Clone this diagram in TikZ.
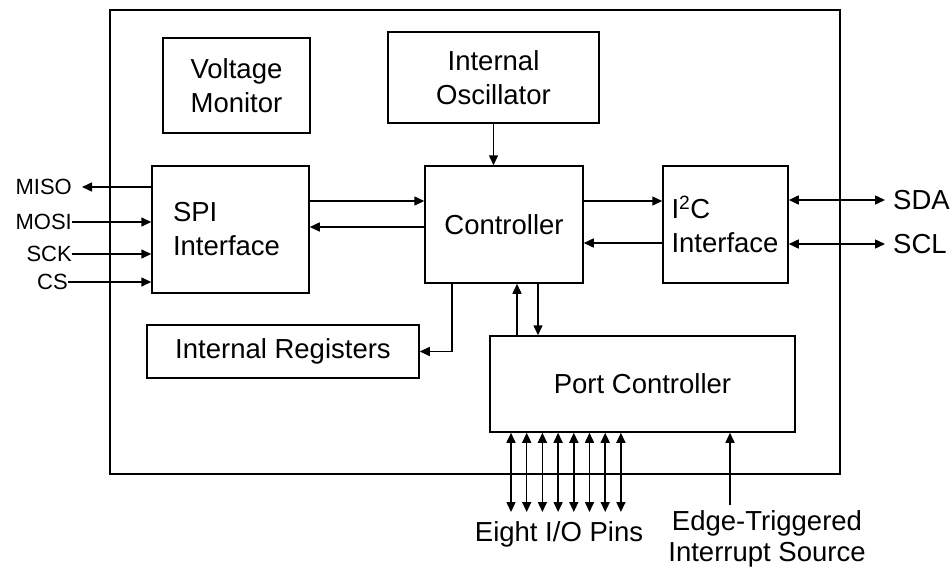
\documentclass[tikz,border=0pt]{standalone}
\usepackage{fontspec}
\setmainfont{Liberation Sans}
\usetikzlibrary{arrows.meta, positioning, calc}
\tikzstyle{block} = [draw, line width=1.5pt, inner sep=0pt, align=center]
\tikzstyle{arrow} = [line width=1.5pt, -{Triangle[length=10pt,width=9pt]}]
\tikzstyle{dblarrow} = [line width=1.5pt, {Triangle[length=10pt,width=9pt]}-{Triangle[length=10pt,width=9pt]}]
\tikzstyle{pinlabel} = [inner sep=0pt, font=\fontsize{22}{26}\selectfont]
\tikzstyle{buslabel} = [inner sep=0pt, align=center]

\begin{document}
\begin{tikzpicture}[x=1pt, y=-1pt, font=\fontsize{27.5}{34}\selectfont]
        \useasboundingbox (0,0) rectangle (950,571);

        % Chip outline
        \node[block, minimum width=730pt, minimum height=464pt] (chip) at (475,242) {};

        % Blocks inside the chip
        \node[block, minimum width=147pt, minimum height=95pt] (vmon) at (236.5,85.5) {Voltage\\Monitor};
        \node[block, minimum width=211pt, minimum height=91pt] (osc) at (493.5,77.5) {Internal\\Oscillator};
        \node[block, minimum width=158pt, minimum height=117pt] (ctrl) at (504,224.5) {Controller};
        \node[block, minimum width=157pt, minimum height=127pt, text width=115pt, align=left] (spi) at (230.5,229.5) {SPI\\Interface};
        \node[block, minimum width=125pt, minimum height=117pt, text width=108pt, align=left] (i2c) at (725.5,224.5) {I\textsuperscript{2}C\\Interface};
        \node[block, minimum width=272pt, minimum height=53pt] (regs) at (283,351.5) {Internal Registers};
        \node[block, minimum width=305pt, minimum height=96pt] (port) at (642.5,384) {Port Controller};

        % SPI pins
        \node[pinlabel, anchor=east] (miso) at (72,187) {MISO};
        \node[pinlabel, anchor=east] (mosi) at (72,222) {MOSI};
        \node[pinlabel, anchor=east] (sck) at (72,254) {SCK};
        \node[pinlabel, anchor=east] (cs) at (68,282) {CS};

        % I2C pins
        \node[buslabel, anchor=west] (sda) at (893,200) {SDA};
        \node[buslabel, anchor=west] (scl) at (893,244) {SCL};

        % Labels below the chip
        \node[buslabel, anchor=base] (iolabel) at (559,541) {Eight I/O Pins};
        \node[buslabel, anchor=north] (irqlabel) at (767,510) {Edge-Triggered\\[-3pt]Interrupt Source};

        % Arrows
        \draw[arrow] (osc.south) -- (osc.south |- ctrl.north);
        \draw[arrow] (spi.east |- 0,201) -- (ctrl.west |- 0,201);
        \draw[arrow] (ctrl.west |- 0,227) -- (spi.east |- 0,227);
        \draw[arrow] (ctrl.east |- 0,201) -- (i2c.west |- 0,201);
        \draw[arrow] (i2c.west |- 0,243) -- (ctrl.east |- 0,243);
        \draw[arrow] (ctrl.south -| 452,0) |- (regs.east);
        \draw[arrow] (port.north -| 517,0) -- (ctrl.south -| 517,0);
        \draw[arrow] (ctrl.south -| 538,0) -- (port.north -| 538,0);

        \draw[arrow, shorten >=10pt] (miso -| spi.west) -- (miso.east);
        \draw[arrow] (mosi.east) -- (mosi -| spi.west);
        \draw[arrow] (sck.east) -- (sck -| spi.west);
        \draw[arrow] (cs.east) -- (cs -| spi.west);

        \draw[dblarrow, shorten >=8pt] (sda.west -| i2c.east) -- (sda.west);
        \draw[dblarrow, shorten >=8pt] (scl.west -| i2c.east) -- (scl.west);

        \foreach \i in {0,...,7} {
            \coordinate (io\i) at (511+15.7*\i,512);
            \draw[dblarrow] (io\i |- port.south) -- (io\i);
        }
        \coordinate (irq) at (730,505);
        \draw[arrow] (irq) -- (irq |- port.south);
    \end{tikzpicture}
\end{document}
